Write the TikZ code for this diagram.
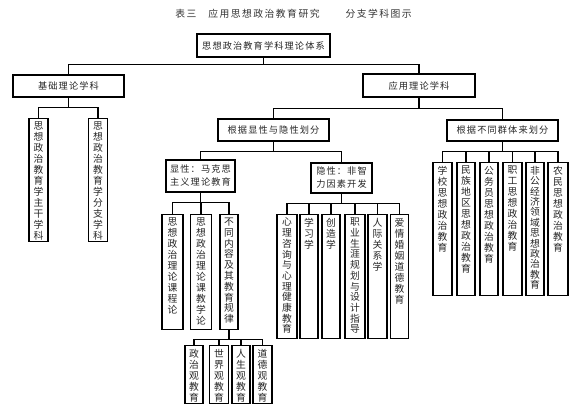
\documentclass[tikz,border=0pt]{standalone}
\usepackage{fontspec}
\setmainfont{Noto Sans CJK SC}[LetterSpace=12]
\newfontfamily\vfont{Noto Sans CJK SC}
\newfontfamily\tfont{Noto Sans CJK SC}[LetterSpace=15]
\usetikzlibrary{shadows}
\makeatletter
\newcommand\vt[3][11]{\vbox to #2pt{\baselineskip=#1pt\lineskiplimit=-20pt\lineskip=0pt\vskip 3.5pt\@tfor\vs@c:=#3\do{\hbox to 12pt{\hss\vs@c\hss}}\vss}}
\makeatother
\tikzset{
  box/.style={draw, line width=1.1pt, fill=white, inner sep=0pt, text=black!85,
    drop shadow={shadow xshift=0.7pt, shadow yshift=-0.7pt, opacity=0.6, fill=black}},
  hb/.style={box, font=\fontsize{9.2}{13}\selectfont, align=center},
  vb/.style={box, font=\vfont\fontsize{9.8}{11}\selectfont},
  link/.style={line width=1.1pt}
}
\begin{document}
\begin{tikzpicture}[x=1pt,y=-1pt]
\useasboundingbox (0,0) rectangle (576,414);
\node[font=\tfont\fontsize{9.8}{11}\selectfont, text=black!80] (title) at (293.5,14) {表三\hspace{12pt}应用思想政治教育研究\hspace{26pt}分支学科图示};
% horizontal boxes
\node[hb, minimum width=133, minimum height=23] (root) at (263.5,45.5) {思想政治教育学科理论体系};
\node[hb, minimum width=111, minimum height=22] (jichu) at (68.5,86) {基础理论学科};
\node[hb, minimum width=112, minimum height=23] (ying) at (419,85.5) {应用理论学科};
\node[hb, minimum width=111, minimum height=22] (xy) at (273.5,130) {根据显性与隐性划分};
\node[hb, minimum width=111, minimum height=21] (qt) at (502.5,130.5) {根据不同群体来划分};
\node[hb, minimum width=69, minimum height=32] (xian) at (200.5,176) {显性：马克思\\主义理论教育};
\node[hb, minimum width=61, minimum height=30] (yin) at (341.5,178) {隐性：非智\\力因素开发};
% vertical boxes
\node[vb, minimum width=19, anchor=north] (a1) at (38.5,118) {\vt{123}{思想政治教育学主干学科}};
\node[vb, minimum width=19, anchor=north] (a2) at (98,118) {\vt{123}{思想政治教育学分支学科}};
\node[vb, minimum width=21, anchor=north] (b1) at (172.5,214) {\vt{115}{思想政治理论课程论}};
\node[vb, minimum width=21, anchor=north] (b2) at (201,214) {\vt{115}{思想政治理论课教学论}};
\node[vb, minimum width=18, anchor=north] (b3) at (229,214) {\vt[10.8]{115}{不同内容及其教育规律}};
\node[vb, minimum width=18, anchor=north] (c1) at (194,345) {\vt{58}{政治观教育}};
\node[vb, minimum width=19, anchor=north] (c2) at (219,345) {\vt{58}{世界观教育}};
\node[vb, minimum width=18, anchor=north] (c3) at (241,345) {\vt{58}{人生观教育}};
\node[vb, minimum width=19, anchor=north] (c4) at (262.5,345) {\vt{58}{道德观教育}};
\node[vb, minimum width=20, anchor=north] (d1) at (287,214) {\vt[10.7]{124}{心理咨询与心理健康教育}};
\node[vb, minimum width=18, anchor=north] (d2) at (309,214) {\vt{124}{学习学}};
\node[vb, minimum width=18, anchor=north] (d3) at (331,214) {\vt{124}{创造学}};
\node[vb, minimum width=20, anchor=north] (d4) at (355,214) {\vt[10.7]{124}{职业生涯规划与设计指导}};
\node[vb, minimum width=19, anchor=north] (d5) at (377.5,214) {\vt{124}{人际关系学}};
\node[vb, minimum width=18, anchor=north] (d6) at (399.5,214) {\vt{124}{爱情婚姻道德教育}};
\node[vb, minimum width=19, anchor=north] (e1) at (442.5,162) {\vt{133}{学校思想政治教育}};
\node[vb, minimum width=18, anchor=north] (e2) at (466,162) {\vt{133}{民族地区思想政治教育}};
\node[vb, minimum width=18, anchor=north] (e3) at (489,162) {\vt{133}{公务员思想政治教育}};
\node[vb, minimum width=19, anchor=north] (e4) at (512.5,162) {\vt{133}{职工思想政治教育}};
\node[vb, minimum width=18, anchor=north] (e5) at (535,162) {\vt[10.4]{133}{非公经济领域思想政治教育}};
\node[vb, minimum width=20, anchor=north] (e6) at (558,162) {\vt{133}{农民思想政治教育}};
% connectors
\begin{scope}[link]
\foreach \c in {jichu,ying} \draw (root.south) -- ++(0,7) -| (\c.north);
\foreach \c in {a1,a2} \draw (jichu.south) -- ++(0,10) -| (\c.north);
\foreach \c in {xy,qt} \draw (ying.south) -- ++(0,11) -| (\c.north);
\foreach \c in {xian,yin} \draw (xy.south) -- ++(0,10) -| (\c.north);
\foreach \c in {e1,e2,e3,e4,e5,e6} \draw (qt.south) -- ++(0,10) -| (\c.north);
\foreach \c in {b1,b2,b3} \draw (xian.south) -- ++(0,10) -| (\c.north);
\foreach \c in {c1,c2,c3,c4} \draw (b3.south) -- ++(0,9) -| (\c.north);
\foreach \c in {d1,d2,d3,d4,d5,d6} \draw (yin.south) -- ++(0,10) -| (\c.north);
\end{scope}
\end{tikzpicture}
\end{document}
